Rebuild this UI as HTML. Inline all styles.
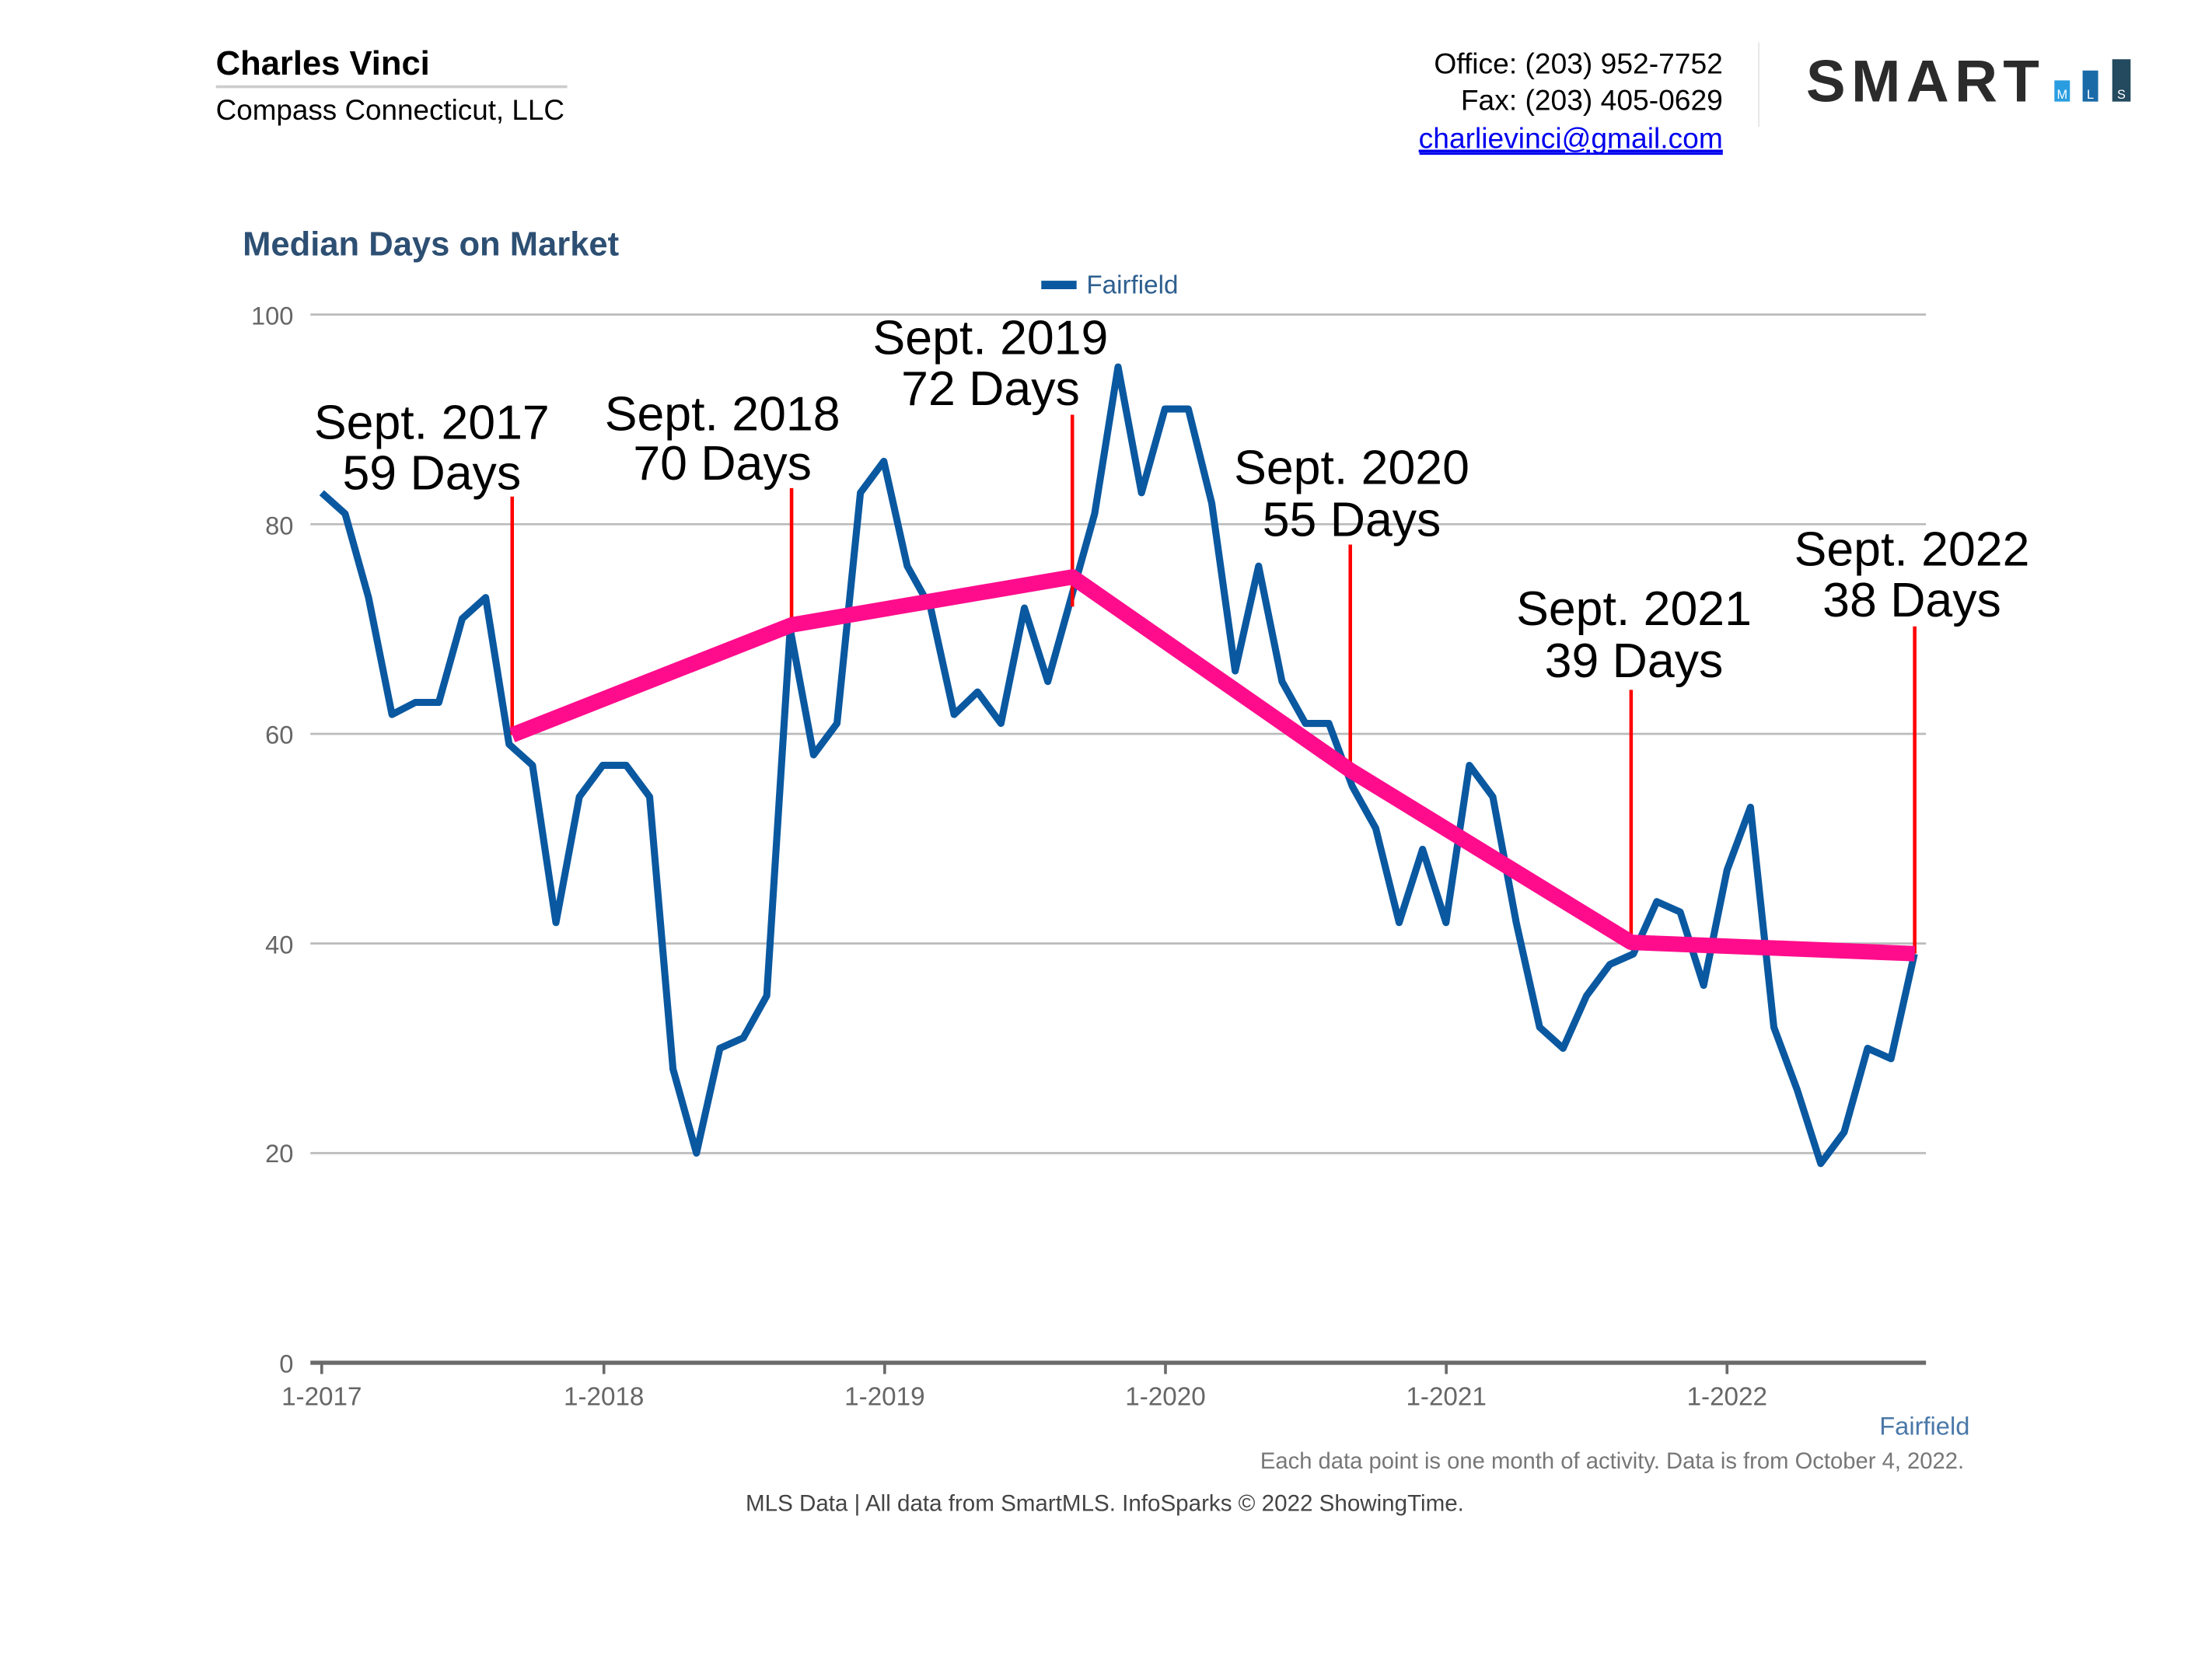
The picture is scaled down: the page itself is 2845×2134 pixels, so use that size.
<!DOCTYPE html>
<html><head><meta charset="utf-8"><style>html,body{margin:0;padding:0;background:#fff}svg{display:block}</style></head>
<body>
<svg width="2845" height="2134" viewBox="0 0 1567.7 1176" preserveAspectRatio="none" xmlns="http://www.w3.org/2000/svg" font-family="Liberation Sans, sans-serif">
<rect width="1600" height="1200" fill="#fff"/>
<text x="153" y="53" font-size="24" font-weight="bold" fill="#000">Charles Vinci</text>
<line x1="153" y1="61.5" x2="402" y2="61.5" stroke="#ccc" stroke-width="2"/>
<text x="153" y="85" font-size="20.3" fill="#000">Compass Connecticut, LLC</text>
<g font-size="20.5" text-anchor="end" fill="#000">
<text x="1221" y="52">Office: (203) 952-7752</text>
<text x="1221" y="78">Fax: (203) 405-0629</text>
<text x="1221" y="105" fill="#00e" text-decoration="underline">charlievinci@gmail.com</text>
</g>
<line x1="1221" y1="109" x2="1006" y2="109" stroke="#00e" stroke-width="1.5"/>
<line x1="1246.5" y1="30" x2="1246.5" y2="90" stroke="#e5e5e5" stroke-width="1"/>
<text x="1280" y="72" font-size="42" font-weight="bold" fill="#2b2b2b" letter-spacing="4">SMART</text>
<rect x="1456" y="57" width="11" height="15" fill="#2a9de0"/>
<rect x="1476" y="50" width="11" height="22" fill="#1a6aa8"/>
<rect x="1497" y="42" width="13" height="30" fill="#234a5e"/>
<g font-size="9" fill="#fff" text-anchor="middle"><text x="1461.5" y="70">M</text><text x="1481.5" y="70">L</text><text x="1503.5" y="70">S</text></g>
<text x="172" y="181" font-size="24" font-weight="bold" fill="#2d4f73">Median Days on Market</text>
<rect x="738" y="199" width="25" height="6" fill="#0a58a0"/>
<text x="770" y="208" font-size="18.3" fill="#2d5f8f">Fairfield</text>
<g stroke="#bbb" stroke-width="1.5">
<line x1="220" y1="223" x2="1365" y2="223"/><line x1="220" y1="371.6" x2="1365" y2="371.6"/>
<line x1="220" y1="520.2" x2="1365" y2="520.2"/><line x1="220" y1="668.8" x2="1365" y2="668.8"/>
<line x1="220" y1="817.4" x2="1365" y2="817.4"/>
</g>
<g font-size="18" fill="#666" text-anchor="end">
<text x="208" y="230">100</text><text x="208" y="379">80</text><text x="208" y="527">60</text>
<text x="208" y="676">40</text><text x="208" y="824">20</text><text x="208" y="973">0</text>
</g>
<line x1="220" y1="966" x2="1365" y2="966" stroke="#6a6a6a" stroke-width="3"/>
<g stroke="#6a6a6a" stroke-width="2">
<line x1="228" y1="966" x2="228" y2="974"/><line x1="428" y1="966" x2="428" y2="974"/>
<line x1="627" y1="966" x2="627" y2="974"/><line x1="826" y1="966" x2="826" y2="974"/>
<line x1="1025" y1="966" x2="1025" y2="974"/><line x1="1224" y1="966" x2="1224" y2="974"/>
</g>
<g font-size="18.3" fill="#666" text-anchor="middle">
<text x="228" y="996">1-2017</text><text x="428" y="996">1-2018</text><text x="627" y="996">1-2019</text>
<text x="826" y="996">1-2020</text><text x="1025" y="996">1-2021</text><text x="1224" y="996">1-2022</text>
</g>
<polyline fill="none" stroke="#0a58a0" stroke-width="5" stroke-linejoin="round" points="228.0,349.3 244.6,364.2 261.2,423.6 277.8,506.5 294.4,497.9 311.0,497.9 327.6,438.5 344.2,423.6 360.8,527.6 377.4,542.5 394.0,654.0 410.6,564.8 427.2,542.5 443.8,542.5 460.4,564.8 477.0,757.9 493.6,817.4 510.2,743.1 526.8,735.7 543.4,705.9 560.0,445.9 576.6,535.1 593.2,512.8 609.8,349.3 626.4,327.0 643.0,401.3 659.6,431.0 676.2,506.5 692.8,490.5 709.4,512.8 726.0,431.0 742.6,483.1 759.2,423.6 775.8,364.2 792.4,260.1 809.0,349.3 825.6,289.9 842.2,289.9 858.8,356.7 875.4,475.6 892.0,401.3 908.6,483.1 925.2,512.8 941.8,512.8 958.4,557.4 975.0,587.1 991.6,654.0 1008.2,602.0 1024.8,654.0 1041.4,542.5 1058.0,564.8 1074.6,654.0 1091.2,728.2 1107.8,743.1 1124.4,705.9 1141.0,683.6 1157.6,676.2 1174.2,639.1 1190.8,646.5 1207.4,698.5 1224.0,616.8 1240.6,572.2 1257.2,728.2 1273.8,772.8 1290.4,824.8 1307.0,802.5 1323.6,743.1 1340.2,750.5 1356.8,676.2"/>
<g stroke="#ff0000" stroke-width="2.5">
<line x1="363" y1="352" x2="363" y2="521"/><line x1="561" y1="346" x2="561" y2="443"/>
<line x1="760" y1="294" x2="760" y2="430"/><line x1="957" y1="386" x2="957" y2="546"/>
<line x1="1156" y1="489" x2="1156" y2="668"/><line x1="1357" y1="444" x2="1357" y2="676"/>
</g>
<polyline fill="none" stroke="#ff0c8c" stroke-width="11" stroke-linejoin="round" points="363,521 561,443 760,409 957,546 1156,668 1357,676"/>
<g font-size="34.5" fill="#000" text-anchor="middle">
<text x="306" y="311">Sept. 2017</text><text x="306" y="347">59 Days</text>
<text x="512" y="305">Sept. 2018</text><text x="512" y="340">70 Days</text>
<text x="702" y="251">Sept. 2019</text><text x="702" y="287">72 Days</text>
<text x="958" y="343">Sept. 2020</text><text x="958" y="380">55 Days</text>
<text x="1158" y="443">Sept. 2021</text><text x="1158" y="480">39 Days</text>
<text x="1355" y="401">Sept. 2022</text><text x="1355" y="437">38 Days</text>
</g>
<text x="1396" y="1017" font-size="18" fill="#4a78a8" text-anchor="end">Fairfield</text>
<text x="1392" y="1041" font-size="16.1" fill="#777" text-anchor="end">Each data point is one month of activity. Data is from October 4, 2022.</text>
<text x="783" y="1071" font-size="16.3" fill="#444" text-anchor="middle">MLS Data | All data from SmartMLS. InfoSparks © 2022 ShowingTime.</text>
</svg>
</body></html>
